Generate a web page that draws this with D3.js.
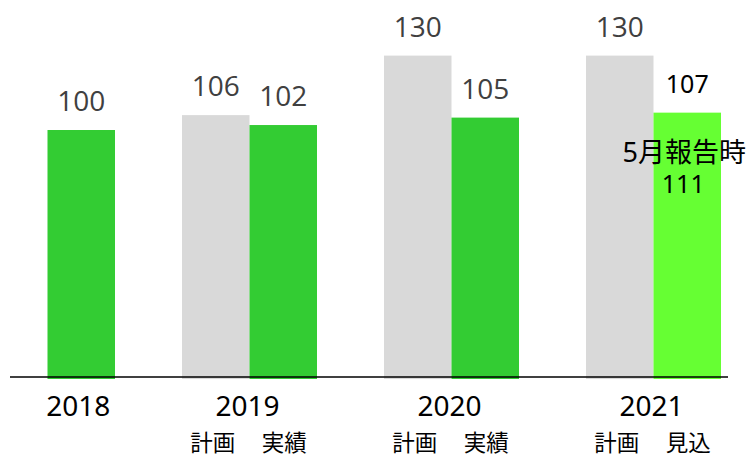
<!DOCTYPE html>
<html>
<head>
<meta charset="utf-8">
<script src="https://cdn.jsdelivr.net/npm/d3@7"></script>
<style>
  html, body { margin: 0; padding: 0; background: #fff; }
  svg { display: block; }
</style>
</head>
<body>
<svg id="chart" width="750" height="458"></svg>
<script>
// Index of sales (2018 = 100): plan vs. actual / forecast per fiscal year
const years = ["2018", "2019", "2020", "2021"];
const planValues = [null, 106, 130, 130];
const actualValues = [100, 102, 105, 107];
const subLabels = [null, ["計画", "実績"], ["計画", "実績"], ["計画", "見込"]];
const noteLines = ["5月報告時", "111"];

const svg = d3.select("#chart");

const x = d3.scaleBand()
  .domain(years)
  .range([-20, 721])
  .paddingInner(0.3317)
  .paddingOuter(0);

const xSub = d3.scaleBand()
  .domain(["plan", "actual"])
  .range([0, x.bandwidth()])
  .padding(0);

const y = d3.scaleLinear().domain([0, 150]).range([378, 6]);

const rows = years.map((yr, i) => ({
  year: yr, plan: planValues[i], actual: actualValues[i], sub: subLabels[i], i
}));

const colorPlan = "#d9d9d9";
const colorActual = "#33cc33";
const colorForecast = "#66ff33";

const bars = [];
rows.forEach(r => {
  if (r.plan != null) bars.push({ year: r.year, key: "plan", value: r.plan, i: r.i });
  bars.push({ year: r.year, key: "actual", value: r.actual, i: r.i });
});

// bars (slight drop below the axis line)
svg.append("g").selectAll("rect")
  .data(bars)
  .join("rect")
  .attr("x", d => x(d.year) + xSub(d.key))
  .attr("y", d => y(d.value))
  .attr("width", xSub.bandwidth())
  .attr("height", d => y(0) + 1 - y(d.value))
  .attr("fill", d => d.key === "plan" ? colorPlan
    : (d.i === years.length - 1 ? colorForecast : colorActual));

// baseline
svg.append("line")
  .attr("x1", 10).attr("x2", 728)
  .attr("y1", y(0) - 1).attr("y2", y(0) - 1)
  .attr("stroke", "#000").attr("stroke-width", 1.5);

// value labels
const last = years.length - 1;
svg.append("g").selectAll("text")
  .data(bars.filter(d => !(d.key === "actual" && d.i === last)))
  .join("text")
  .attr("x", d => x(d.year) + xSub(d.key) + xSub.bandwidth() / 2)
  .attr("y", d => y(d.value) - 19)
  .attr("text-anchor", "middle")
  .attr("font-family", "'Open Sans', 'Noto Sans', sans-serif")
  .attr("font-size", 28)
  .attr("fill", "#404040")
  .text(d => d.value);

// forecast bar label and note
const fc = bars.find(d => d.key === "actual" && d.i === last);
const fcx = x(fc.year) + xSub("actual") + xSub.bandwidth() / 2;
const jp = "'Noto Sans', 'Noto Sans CJK JP', sans-serif";
svg.append("text")
  .attr("x", fcx).attr("y", y(fc.value) - 20)
  .attr("text-anchor", "middle")
  .attr("font-family", jp).attr("font-size", 25).attr("fill", "#000")
  .text(fc.value);

const note = svg.append("text")
  .attr("text-anchor", "middle")
  .attr("font-family", jp).attr("fill", "#000");
note.append("tspan")
  .attr("x", fcx - 3).attr("y", y(fc.value) + 49)
  .attr("font-size", 27)
  .text(noteLines[0]);
note.append("tspan")
  .attr("x", fcx - 4).attr("y", y(fc.value) + 80)
  .attr("font-size", 25)
  .text(noteLines[1]);

// year labels
svg.append("g").selectAll("text")
  .data(rows)
  .join("text")
  .attr("x", d => d.plan == null
    ? x(d.year) + xSub("actual") + xSub.bandwidth() / 2 - 3
    : x(d.year) + xSub("actual") - 2)
  .attr("y", 416)
  .attr("text-anchor", "middle")
  .attr("font-family", jp)
  .attr("font-size", 28)
  .attr("fill", "#000")
  .text(d => d.year);

// plan / actual captions under each year
const subs = [];
rows.forEach(r => {
  if (r.sub) {
    subs.push({ x: x(r.year) + xSub("plan") + xSub.bandwidth() / 2 - 3, t: r.sub[0] });
    subs.push({ x: x(r.year) + xSub("actual") + xSub.bandwidth() / 2 + 1, t: r.sub[1] });
  }
});
svg.append("g").selectAll("text")
  .data(subs)
  .join("text")
  .attr("x", d => d.x)
  .attr("y", 451)
  .attr("text-anchor", "middle")
  .attr("font-family", jp)
  .attr("font-size", 22.5)
  .attr("fill", "#000")
  .text(d => d.t);
</script>
</body>
</html>
